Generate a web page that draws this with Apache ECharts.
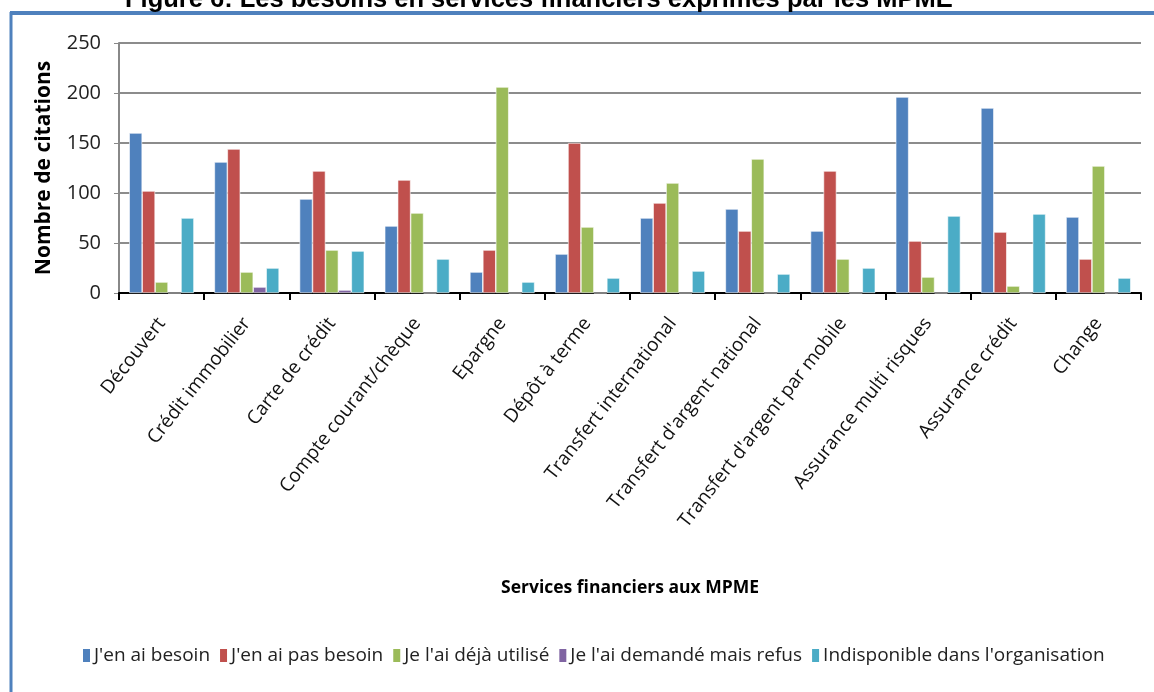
<!DOCTYPE html>
<html lang="fr">
<head>
    <meta charset="utf-8">
    <title>Besoins en services financiers des MPME</title>
    <script src="https://cdn.jsdelivr.net/npm/echarts@6/dist/echarts.min.js"></script>
    <style>
        html, body, #chart {
            width: 100%; height: 100%; margin: 0; padding: 0; overflow: hidden; background-color: #ffffff;
        }
    </style>
</head>
<body>
<div id="chart"></div>
<script type="text/javascript">
    // services (categories de l'axe x)
    var services = ['Découvert', 'Crédit immobilier', 'Carte de crédit', 'Compte courant/chèque', 'Epargne',
        'Dépôt à terme', 'Transfert international', "Transfert d'argent national", "Transfert d'argent par mobile",
        'Assurance multi risques', 'Assurance crédit', 'Change'];

    // nombre de citations par modalite
    var besoin      = [160, 131,  94,  67,  21,  39,  75,  84,  62, 196, 185,  76];
    var pasBesoin   = [102, 144, 122, 113,  43, 150,  90,  62, 122,  52,  61,  34];
    var dejaUtilise = [ 11,  21,  43,  80, 206,  66, 110, 134,  34,  16,   7, 127];
    var refus       = [  0,   6,   3,   0,   0,   0,   0,   0,   0,   0,   0,   0];
    var indisponible= [ 75,  25,  42,  34,  11,  15,  22,  19,  25,  77,  79,  15];

    var seriesNames = ["J'en ai besoin", "J'en ai pas besoin", "Je l'ai déjà utilisé", "Je l'ai demandé mais refus", "Indisponible dans l'organisation"];
    var seriesData = [besoin, pasBesoin, dejaUtilise, refus, indisponible];
    var colors = ['#4F81BD', '#C0504D', '#9BBB59', '#8064A2', '#4BACC6'];

    var chart = echarts.init(document.getElementById('chart'));

    var series = [];
    for (var i = 0; i < seriesNames.length; i++) {
        series.push({
            name: seriesNames[i],
            type: 'bar',
            data: seriesData[i],
            barGap: '0%',
            barCategoryGap: '24%',
            itemStyle: { color: colors[i], borderColor: '#ffffff', borderWidth: 0.6 }
        });
    }

    var option = {
        animation: false,
        color: colors,
        title: {
            text: 'Figure 6: Les besoins en services financiers exprimés par les MPME',
            left: 120,
            top: -18,
            textStyle: { fontFamily: 'Liberation Sans', fontWeight: 'bold', fontSize: 25.5, color: '#000' }
        },
        graphic: [
            // cadre bleu
            { type: 'line', shape: { x1: 10, y1: 13, x2: 1154, y2: 13 }, style: { stroke: '#4F81BD', lineWidth: 4 } },
            { type: 'line', shape: { x1: 11, y1: 12, x2: 11, y2: 692 }, style: { stroke: '#4F81BD', lineWidth: 3 } }
        ],
        legend: {
            bottom: 22,
            left: 76,
            itemWidth: 9,
            itemHeight: 15,
            itemGap: 8,
            icon: 'rect',
            textStyle: { fontFamily: 'Open Sans', fontSize: 19, color: '#222', padding: [0, 0, 0, -2] }
        },
        grid: { left: 119, right: 13, top: 43, bottom: 399 },
        xAxis: {
            type: 'category',
            data: services,
            name: 'Services financiers aux MPME',
            nameLocation: 'middle',
            nameGap: 286,
            nameTextStyle: { fontFamily: 'Open Sans', fontWeight: 'bold', fontSize: 17.5, color: '#000' },
            axisLine: { lineStyle: { color: '#000', width: 2 } },
            axisTick: { show: true, length: 7, lineStyle: { color: '#000', width: 2 } },
            axisLabel: {
                rotate: 52,
                interval: 0,
                margin: 27,
                fontFamily: 'Open Sans',
                fontSize: 19,
                color: '#111'
            }
        },
        yAxis: {
            type: 'value',
            min: 0,
            max: 250,
            interval: 50,
            name: 'Nombre de citations',
            nameLocation: 'middle',
            nameGap: 64,
            nameTextStyle: { fontFamily: 'Open Sans', fontWeight: 'bold', fontSize: 21, color: '#000' },
            axisLine: { show: true, lineStyle: { color: '#888', width: 2 } },
            axisTick: { show: true, length: 5, lineStyle: { color: '#888', width: 1 } },
            axisLabel: { fontFamily: 'Open Sans', fontSize: 20, color: '#222', margin: 18 },
            splitLine: { lineStyle: { color: '#8c8c8c', width: 2 } }
        },
        series: series
    };

    chart.setOption(option);
</script>
</body>
</html>
